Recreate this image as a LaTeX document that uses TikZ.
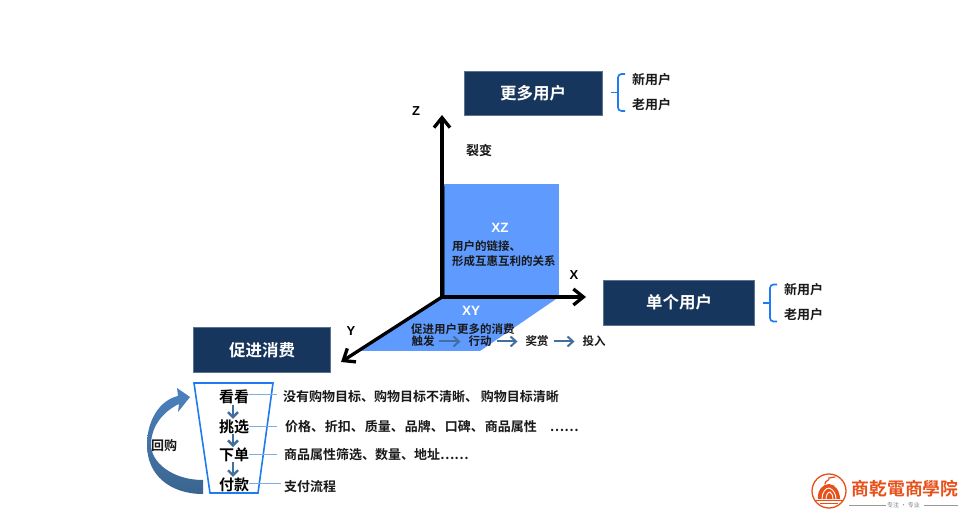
\documentclass[tikz,border=0pt]{standalone}
\usepackage{fontspec}
\setmainfont{Liberation Sans}
\newfontfamily\cjk{Noto Sans CJK SC}[BoldFont={Noto Sans CJK SC Bold}]
\newfontfamily\cjktc{Noto Sans CJK TC}[BoldFont={Noto Sans CJK TC Bold}]
\usetikzlibrary{arrows.meta,calc}
\definecolor{navy}{HTML}{17365D}
\definecolor{planeblue}{HTML}{5F9BFF}
\definecolor{steel}{HTML}{41709F}
\definecolor{brace}{HTML}{1F7BF2}
\definecolor{logoorange}{HTML}{E8501A}
\tikzset{
  x=1pt,y=-1pt,
  every node/.style={inner sep=0pt,outer sep=0pt,font=\cjk\bfseries},
  headbox/.style={fill=navy,draw=navy!70!white,line width=.5pt,text=white,font=\cjk\bfseries\fontsize{16.5}{18}\selectfont,anchor=center},
  lab/.style={text=black!90,font=\cjk\bfseries\fontsize{13}{15}\selectfont},
  smalllab/.style={text=black!90,font=\cjk\bfseries\fontsize{11.5}{13}\selectfont},
  stepword/.style={text=black,font=\cjk\bfseries\fontsize{15}{17}\selectfont},
  axis/.style={line width=3.3pt,-{Straight Barb[length=10pt,width=16pt,line width=3.3pt]},black},
  axislab/.style={text=black,font=\bfseries\fontsize{13}{15}\selectfont\rmfamily},
  planelab/.style={text=white,font=\bfseries\fontsize{13.5}{15}\selectfont\rmfamily},
  smallarrow/.style={line width=2pt,steel,-{Straight Barb[length=5.5pt,width=10pt,line width=2pt]}},
  downarrow/.style={line width=2.6pt,steel,-{Straight Barb[length=5pt,width=10pt,line width=2.4pt]}},
  leader/.style={line width=.9pt,color=steel!50!brace!60!white},
  bracepath/.style={line width=1.7pt,brace,rounded corners=3.5pt},
}
\newcommand{\userbrace}[2]{% tip coordinate x, mid y
  \draw[bracepath] (#1+14,#2-18.5) -- (#1+7,#2-18.5) -- (#1+7,#2+18.5) -- (#1+14,#2+18.5);
  \draw[line width=1.7pt,brace] (#1,#2) -- (#1+7,#2);
}
\begin{document}
\begin{tikzpicture}
\useasboundingbox (0,0) rectangle (966,518);
\fill[white] (0,0) rectangle (966,518);
% planes
\fill[planeblue] (442,184) rectangle (559,297);
\fill[planeblue] (442,297) -- (559,297) -- (480,351) -- (358,351) -- cycle;
\draw[line width=1.2pt,navy!70!planeblue] (444.5,186) -- (444.5,295.5) -- (559,295.5);
% axes
\coordinate (O) at (442,297);
\coordinate (zend) at (442,115);
\coordinate (xend) at (586,297);
\coordinate (yend) at (341,362);
\draw[axis,line join=miter] (O) -- (zend);
\draw[axis,line join=miter] (O) -- (xend);
\draw[axis,line join=miter] (O) -- (yend);
\node[axislab] (zl) at (416,111) {Z};
\node[axislab] (xl) at (574,275) {X};
\node[axislab] (yl) at (351,331) {Y};
\node[lab] (lb) at (479,150.5) {裂变};
% head boxes
\node[headbox,minimum width=138pt,minimum height=44pt] (more) at (533,93.5) {更多用户};
\node[headbox,minimum width=151pt,minimum height=45pt] (single) at (679,302.5) {单个用户};
\node[headbox,minimum width=137pt,minimum height=45pt] (promo) at (262,350) {促进消费};
% braces
\userbrace{611}{92.5}
\userbrace{763}{303}
\node[lab] (n1) at (651.5,79.5) {新用户};
\node[lab] (o1) at (651.5,104.5) {老用户};
\node[lab] (n2) at (803.5,289.5) {新用户};
\node[lab] (o2) at (803.5,314.5) {老用户};
% plane labels
\node[planelab] (xz) at (500,227.5) {XZ};
\node[smalllab,align=left,anchor=west,font=\cjk\bfseries\fontsize{11.5}{15}\selectfont] (xzt) at (452,254) {用户的链接、\\形成互惠互利的关系};
\node[planelab] (xy) at (471,311) {XY};
\node[smalllab,anchor=west] (xyt) at (411,329.5) {促进用户更多的消费};
\node[smalllab] (a1) at (423,341.5) {触发};
\node[smalllab] (a2) at (480,341.5) {行动};
\node[smalllab] (a3) at (537,341.5) {奖赏};
\node[smalllab] (a4) at (594,341.5) {投入};
\draw[smallarrow] ($(a1.east)+(4,0)$) -- ($(a2.west)+(-8,0)$);
\draw[smallarrow] ($(a2.east)+(5,0)$) -- ($(a3.west)+(-8,0)$);
\draw[smallarrow] ($(a3.east)+(5,0)$) -- ($(a4.west)+(-8,0)$);
% funnel
\draw[line width=1.6pt,brace,line join=miter] (194,383) -- (273,383) -- (258,493) -- (210,493) -- cycle;
\node[stepword] (s1) at (234,397) {看看};
\node[stepword] (s2) at (234,427) {挑选};
\node[stepword] (s3) at (234,455) {下单};
\node[stepword] (s4) at (234,485) {付款};
\draw[downarrow] ($(s1.south)+(-1,1)$) -- ($(s2.north)+(-1,-1)$);
\draw[downarrow] ($(s2.south)+(-1,0)$) -- ($(s3.north)+(-1,-1)$);
\draw[downarrow] ($(s3.south)+(-1,0)$) -- ($(s4.north)+(-1,-1)$);
\node[lab,anchor=west] (d1) at (283,396.5) {没有购物目标、购物目标不清晰、 购物目标清晰};
\node[lab,anchor=west] (d2) at (285,426.5) {价格、\hspace{1pt}折扣、\hspace{1pt}质量、\hspace{1pt}品牌、\hspace{1pt}口碑、\hspace{1pt}商品属性\hspace{13pt}……};
\node[lab,anchor=west] (d3) at (284,454.5) {商品属性筛选、数量、地址……};
\node[lab,anchor=west] (d4) at (284,486.5) {支付流程};
\coordinate (l1) at (277,394);
\coordinate (l2) at (277,426);
\coordinate (l3) at (277,454);
\coordinate (l4) at (281,483);
\draw[leader] (s1.east |- l1) -- (l1);
\draw[leader] (s2.east |- l2) -- (l2);
\draw[leader] (s3.east |- l3) -- (l3);
\draw[leader] (s4.east |- l4) -- (l4);
% return arrow
\shade[top color=steel!70!brace!90!white,bottom color=steel!90!black]
 (203,494) .. controls (170,494) and (147,475) .. (147,445)
 .. controls (147,420) and (160,400) .. (178,396)
 -- (177,388) -- (190,397) -- (178,412) -- (179,404)
 .. controls (166,410) and (151,424) .. (151,445)
 .. controls (151,462) and (172,480) .. (203,480) -- cycle;
\node[lab] (hg) at (164,445.5) {回购};
% logo
\draw[logoorange,line width=1.3pt] (829,491) circle (17);
\fill[logoorange] (818,499) .. controls (817,490) and (823,484) .. (829,484)
  .. controls (835,484) and (840,491) .. (840,499) -- cycle;
\draw[white,line width=.9pt] (822,499) .. controls (822,492) and (826,488) .. (829,488) .. controls (833,489) and (836,494) .. (836,499);
\draw[white,line width=.9pt] (826,499) .. controls (826,495) and (828,492) .. (830,492) .. controls (832,493) and (833,496) .. (833,499);
\draw[logoorange,line width=1.4pt] (815,500.5) -- (843,500.5);
\draw[logoorange,line width=1pt] (820,503.5) -- (838,503.5);
\draw[logoorange,line width=1.2pt,line cap=round] (825,484) .. controls (825,480) and (830,481) .. (829,478) -- (835,477);
\node[text=logoorange,font=\cjktc\bfseries\fontsize{17.8}{19}\selectfont] (lg) at (905,489) {商乾電商學院};
\node[text=gray,font=\cjk\fontsize{6}{7}\selectfont] (ls) at (903.5,505) {专注 · 专业};
\draw[gray!80,line width=.6pt] (849,505) -- ($(ls.west)+(-1,0)$);
\draw[gray!80,line width=.6pt] ($(ls.east)+(4,0)$) -- (958,505);
\end{tikzpicture}
\end{document}
